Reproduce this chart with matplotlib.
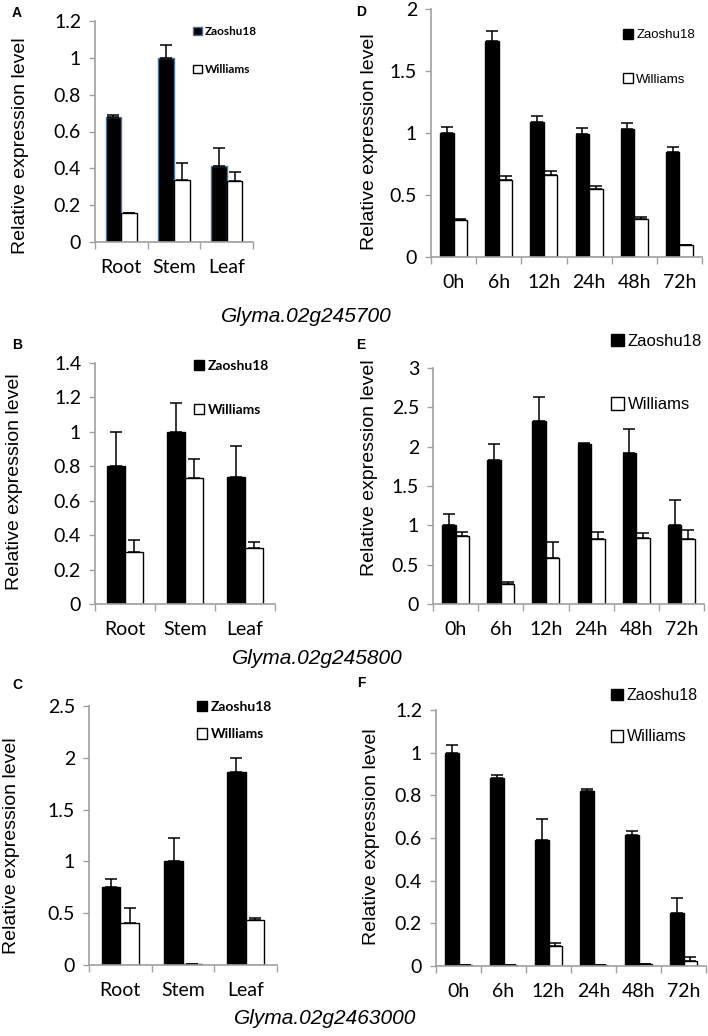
import numpy as np
import matplotlib
matplotlib.use('Agg')
import matplotlib.pyplot as plt
from matplotlib.patches import Patch
from matplotlib.ticker import FuncFormatter, FixedLocator

W, H = 708, 1036

tissues = ['Root', 'Stem', 'Leaf']
hours = ['0h', '6h', '12h', '24h', '48h', '72h']

# Glyma.02g245700
a_zao = [0.68, 1.0, 0.415]
a_zao_err = [0.012, 0.07, 0.095]
a_wil = [0.155, 0.335, 0.33]
a_wil_err = [0.0, 0.095, 0.05]

d_zao = [1.0, 1.74, 1.09, 0.99, 1.03, 0.85]
d_zao_err = [0.05, 0.08, 0.05, 0.05, 0.05, 0.04]
d_wil = [0.30, 0.62, 0.66, 0.55, 0.31, 0.10]
d_wil_err = [0.01, 0.03, 0.03, 0.02, 0.01, 0.0]

# Glyma.02g245800
b_zao = [0.80, 1.0, 0.735]
b_zao_err = [0.20, 0.165, 0.185]
b_wil = [0.30, 0.73, 0.325]
b_wil_err = [0.07, 0.11, 0.035]

e_zao = [1.0, 1.83, 2.32, 2.03, 1.92, 1.0]
e_zao_err = [0.14, 0.21, 0.31, 0.02, 0.30, 0.32]
e_wil = [0.87, 0.25, 0.58, 0.82, 0.84, 0.82]
e_wil_err = [0.04, 0.03, 0.21, 0.09, 0.06, 0.12]

# Glyma.02g2463000
c_zao = [0.75, 1.0, 1.86]
c_zao_err = [0.08, 0.23, 0.14]
c_wil = [0.41, 0.005, 0.43]
c_wil_err = [0.14, 0.0, 0.02]

f_zao = [1.0, 0.88, 0.59, 0.82, 0.615, 0.25]
f_zao_err = [0.035, 0.015, 0.10, 0.01, 0.02, 0.07]
f_wil = [0.005, 0.005, 0.095, 0.005, 0.008, 0.025]
f_wil_err = [0.0, 0.0, 0.015, 0.0, 0.0, 0.015]

genes = ['Glyma.02g245700', 'Glyma.02g245800', 'Glyma.02g2463000']

GRAY = '#a0a0a0'
TICKFONT = 'Lato'
ARIAL = 'Liberation Sans'

fig = plt.figure(figsize=(W / 100, H / 100), dpi=100)


def px_axes(left, top, right, bottom):
    return fig.add_axes([left / W, 1 - bottom / H, (right - left) / W, (bottom - top) / H])


def bar_panel(ax, cats, zao, zao_err, wil, wil_err, ymax, ystep, zao_edge='black'):
    x = np.arange(len(cats))
    w = 0.3
    ekw = dict(ecolor='black', elinewidth=1.1, capsize=4.5, capthick=1.1)
    ax.bar(x - w / 2, zao, w, color='black', edgecolor=zao_edge, linewidth=1.0,
           yerr=[np.zeros(len(cats)), zao_err], error_kw=ekw, zorder=2)
    ax.bar(x + w / 2, wil, w, color='white', edgecolor='black', linewidth=1.0,
           yerr=[np.zeros(len(cats)), wil_err], error_kw=ekw, zorder=2)
    ax.set_xlim(-0.5, len(cats) - 0.5)
    ax.set_ylim(0, ymax)
    ax.set_yticks(np.arange(0, ymax + ystep / 2, ystep))
    ax.yaxis.set_major_formatter(FuncFormatter(lambda v, p: '%g' % round(v, 2)))
    # ticks at category boundaries, labels centered
    ax.xaxis.set_major_locator(FixedLocator(np.arange(len(cats) + 1) - 0.5))
    ax.xaxis.set_minor_locator(FixedLocator(x))
    ax.set_xticklabels([], minor=False)
    ax.set_xticklabels(cats, minor=True)
    ax.tick_params(axis='x', which='major', length=5, color=GRAY, width=1)
    ax.tick_params(axis='x', which='minor', length=0, pad=12)
    ax.tick_params(axis='y', length=4, color=GRAY, width=1, pad=6)
    for lab in ax.get_xticklabels(minor=True) + ax.get_yticklabels():
        lab.set_fontfamily(TICKFONT)
        lab.set_fontsize(14)
        lab.set_color('#000000')
    for s in ['top', 'right']:
        ax.spines[s].set_visible(False)
    for s in ['left', 'bottom']:
        ax.spines[s].set_color(GRAY)
        ax.spines[s].set_linewidth(1.2)


def legend(ax, x, y, size, bold, family, spacing, zao_edge='black'):
    handles = [Patch(facecolor='black', edgecolor=zao_edge, linewidth=1.0),
               Patch(facecolor='white', edgecolor='black', linewidth=1.0)]
    ax.legend(handles, ['Zaoshu18', 'Williams'], loc='upper left',
              bbox_to_anchor=(x / W, 1 - y / H), bbox_transform=fig.transFigure,
              frameon=False, borderpad=0, borderaxespad=0, handlelength=0.75,
              handleheight=0.75, handletextpad=0.25, labelspacing=spacing,
              prop=dict(family=family, size=size, weight='bold' if bold else 'normal'))


def ylab(x, y):
    fig.text(x / W, 1 - y / H, 'Relative expression level', rotation=90,
             ha='center', va='center', fontsize=14, family=ARIAL)


def letter(x, y, s):
    fig.text(x / W, 1 - y / H, s, ha='center', va='center', fontsize=10,
             fontweight='bold', family=ARIAL)


# Panel A
ax = px_axes(95, 21, 253, 242)
bar_panel(ax, tissues, a_zao, a_zao_err, a_wil, a_wil_err, 1.2, 0.2, zao_edge='#4f6f9a')
legend(ax, 193, 26, 8.5, True, TICKFONT, 2.3, zao_edge='#4f6f9a')
ylab(21, 146)
letter(17, 13, 'A')

# Panel D
ax = px_axes(431, 9, 702, 257)
bar_panel(ax, hours, d_zao, d_zao_err, d_wil, d_wil_err, 2.0, 0.5)
legend(ax, 623, 29, 9.5, False, ARIAL, 2.4)
ylab(369, 142)
letter(361, 12, 'D')

# Panel B
ax = px_axes(95, 363, 275, 604)
bar_panel(ax, tissues, b_zao, b_zao_err, b_wil, b_wil_err, 1.4, 0.2)
legend(ax, 194, 360, 10, True, TICKFONT, 2.3)
ylab(15, 482)
letter(17, 345, 'B')

# Panel E
ax = px_axes(433, 368, 704, 604)
bar_panel(ax, hours, e_zao, e_zao_err, e_wil, e_wil_err, 3.0, 0.5)
legend(ax, 611, 334, 12, False, ARIAL, 2.9)
ylab(369, 468)
letter(361, 345, 'E')

# Panel C
ax = px_axes(89, 706, 277, 965)
bar_panel(ax, tissues, c_zao, c_zao_err, c_wil, c_wil_err, 2.5, 0.5)
legend(ax, 197, 701, 10, True, TICKFONT, 1.1)
ylab(12, 846)
letter(17, 685, 'C')

# Panel F
ax = px_axes(436, 710, 706, 966)
bar_panel(ax, hours, f_zao, f_zao_err, f_wil, f_wil_err, 1.2, 0.2)
legend(ax, 611, 688, 11.5, False, ARIAL, 1.65)
ylab(371, 837)
letter(361, 683, 'F')

# gene names
for (gx, gy), g in zip([(306, 316), (317, 658), (325, 1019)], genes):
    fig.text(gx / W, 1 - gy / H, g, ha='center', va='center', fontsize=15,
             style='italic', family=ARIAL)

fig.savefig('out.png', dpi=100)
